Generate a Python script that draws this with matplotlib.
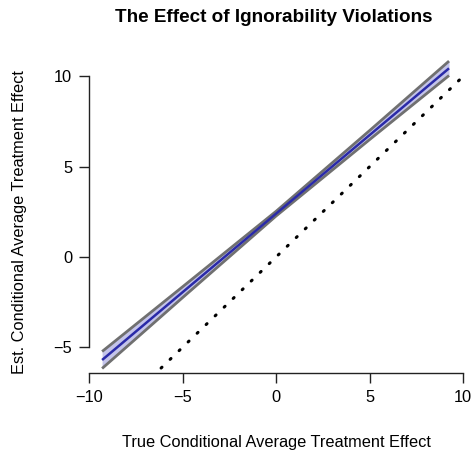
import matplotlib
matplotlib.use("Agg")
import matplotlib.pyplot as plt

plt.rcParams['font.family'] = ['Liberation Sans', 'DejaVu Sans']

# Estimated CATE line with confidence band
true_cate = [-9.3, -5.0, 0.0, 5.0, 9.25]
est_cate = [-5.70, -1.95, 2.40, 6.75, 10.45]
est_lower = [-6.17, -2.25, 2.27, 6.50, 10.05]
est_upper = [-5.23, -1.65, 2.53, 7.00, 10.85]

# Reference identity line y = x
ref_x = [-10, 10]
ref_y = [-10, 10]

xticks = [-10, -5, 0, 5, 10]
yticks = [-5, 0, 5, 10]

W, H = 471, 451
fig = plt.figure(figsize=(W / 100, H / 100), dpi=100)
left, right, top, bottom = 89, 464, 58, 373
ax = fig.add_axes([left / W, 1 - bottom / H, (right - left) / W, (bottom - top) / H])

ax.fill_between(true_cate, est_lower, est_upper, color='#c4c4ea', lw=0)
ax.plot(true_cate, est_lower, color='#707070', lw=2.0, solid_capstyle='butt')
ax.plot(true_cate, est_upper, color='#707070', lw=2.0, solid_capstyle='butt')
ax.plot(true_cate, est_cate, color='#2a2aa8', lw=1.8, solid_capstyle='butt')
ax.plot(ref_x, ref_y, color='black', lw=2.2, linestyle=(0, (0.4, 3.7)),
        dash_capstyle='round')

ax.set_xlim(-10.0, 10.05)
ax.set_ylim(-6.42, 11.02)

for s in ['top', 'right']:
    ax.spines[s].set_visible(False)
ax.spines['left'].set_bounds(-5, 10)
ax.spines['bottom'].set_bounds(-10, 10)
for s in ['left', 'bottom']:
    ax.spines[s].set_color('#222222')
    ax.spines[s].set_linewidth(1.0)

ax.set_xticks(xticks)
ax.set_yticks(yticks)
ax.set_xticklabels(['\u221210', '\u22125', '0', '5', '10'])
ax.set_yticklabels(['\u22125', '0', '5', '10'])
ax.tick_params(axis='both', direction='out', length=7, width=1.0, color='#222222',
               labelsize=11.8, pad=5)

fig.text(276 / W, 1 - 442 / H, 'True Conditional Average Treatment Effect',
         fontsize=11.8, ha='center', va='center')
fig.text(20 / W, 1 - 222 / H, 'Est. Conditional Average Treatment Effect',
         fontsize=11.8, ha='center', va='center', rotation=90)
fig.text(274 / W, 1 - 17 / H, 'The Effect of Ignorability Violations',
         fontsize=13.6, fontweight='bold', ha='center', va='center')

fig.savefig('out.png', dpi=100)
